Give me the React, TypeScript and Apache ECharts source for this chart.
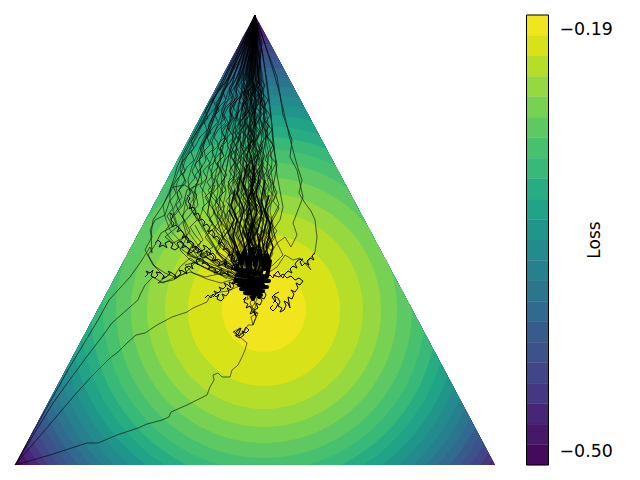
import React, { useEffect, useRef } from "react";
import * as echarts from "echarts";

// Contour bands, innermost first: radius in simplex-plane units and fill
const bandRadii = [42,76,99,117,133,148,161,173,184,195,205,215,224,233,242,250,258,266,273,281,288,330];
const bandColors = ["#f1e51d","#d8e219","#b5de2b","#95d840","#77d153","#5ec962","#47c16e","#38b977","#27ad81","#20a386","#20968b","#238a8d","#27808e","#2b758e","#306a8e","#365c8d","#3b528b","#404688","#453781","#482677","#471869","#450a5c"];
const optimum = [249, 295];
const simplex = [[0,450],[480,450],[240,0]];

// Colour bar
const lossLevels = [-0.5104,-0.4954,-0.4803,-0.4653,-0.4502,-0.4352,-0.4201,-0.4051,-0.39,-0.375,-0.3599,-0.3449,-0.3298,-0.3148,-0.2997,-0.2847,-0.2696,-0.2546,-0.2395,-0.2245,-0.2094,-0.1944,-0.1794];
const lossTicks = [-0.5, -0.19];

// Fan of runs from the apex: x read at shared depths
const depthA = [0,10,22,33,47,58,71,84,95,108,121,133,146,158,171,183,196,209,221,234,247,258];
const depthB = [0,15,27,41,52,66,77,90,103,114,127,140,151,165,177,190,202,215,226,240,252,264];
const fanRuns = [
[240,239,238,239,236,237,235,237,234,235,232,234,231,233,230,233,231,234,232,235,234,236],
[240,240,239,237,238,236,237,235,236,233,235,232,234,236,233,235,237,234,236,235,237,238],
[240,241,239,240,238,239,237,240,238,241,239,237,240,238,241,239,242,240,238,241,239,240],
[240,239,241,240,242,240,243,241,239,242,240,243,241,244,242,240,243,241,244,242,240,241],
[240,240,242,241,243,242,245,243,246,244,247,245,243,246,244,247,245,248,246,244,246,243],
[240,241,240,243,242,244,243,246,245,248,246,249,247,250,248,251,249,247,250,248,245,243],
[240,239,237,238,235,236,233,234,231,233,229,231,228,230,227,229,226,229,227,231,230,234],
[240,238,239,236,234,235,232,230,231,228,229,226,228,225,227,224,226,223,226,228,231,233],
[240,239,236,235,233,231,232,229,227,228,225,226,223,221,224,222,220,223,221,225,228,232],
[240,238,236,234,232,233,229,228,225,226,222,220,221,218,220,217,215,218,220,224,227,231],
[240,238,235,233,230,228,229,225,223,220,221,218,215,216,213,215,212,214,217,220,225,229],
[240,237,234,232,229,226,227,223,220,217,218,214,212,209,211,208,210,213,216,220,224,230],
[240,237,234,230,227,225,221,222,218,215,212,213,209,206,207,204,206,210,214,218,224,229],
[240,237,233,229,226,222,219,215,216,212,209,205,206,202,203,200,204,208,213,218,223,228],
[240,236,232,228,224,220,217,213,209,206,207,203,199,196,198,195,199,203,208,214,220,227],
[240,236,231,227,222,218,213,209,205,201,197,198,194,191,187,189,185,190,196,204,213,225],
[240,235,230,225,220,215,211,206,201,197,192,188,184,186,181,178,180,185,192,200,210,222],
[240,235,229,224,218,213,208,203,198,193,187,182,177,173,175,170,168,172,180,190,203,218],
[240,235,228,223,216,211,205,199,194,188,182,176,170,166,161,163,158,162,170,182,197,214],
[240,235,228,222,215,209,202,196,190,184,178,171,165,160,154,148,150,155,165,178,195,212],
[240,241,243,242,245,244,247,246,249,248,251,250,253,251,254,252,250,253,251,248,245,242],
[240,242,241,244,246,245,248,250,249,252,251,254,252,255,257,254,252,255,253,250,247,243],
[240,241,243,245,244,247,249,248,251,253,252,255,257,256,259,257,255,258,256,252,248,244],
[240,239,240,238,239,237,238,236,237,235,236,234,235,233,234,232,233,231,232,230,232,235],
[240,240,238,239,237,238,235,236,234,235,233,234,231,232,230,231,229,230,228,229,231,235],
[240,241,239,241,240,242,240,241,239,240,238,239,237,238,236,237,235,236,234,235,233,236],
[240,239,241,238,240,237,239,236,238,235,237,234,236,233,238,235,240,237,241,238,236,238],
[240,240,241,239,241,238,240,242,239,241,238,243,240,237,242,239,236,241,238,243,240,239],
[240,240,238,236,237,234,235,232,233,230,231,228,229,226,227,224,225,222,223,226,228,232],
[240,239,238,235,236,233,231,232,229,230,227,225,226,223,222,219,220,217,219,222,226,231],
[240,238,236,237,234,232,229,230,227,224,225,222,219,220,217,214,215,212,216,220,225,230],
[240,238,235,233,231,229,226,224,222,219,217,214,212,209,207,204,202,205,209,215,222,229],
[240,238,234,231,228,225,222,220,216,214,210,208,204,201,198,195,193,197,204,211,220,227],
[240,241,242,240,243,241,244,246,243,245,242,246,248,245,243,246,249,246,243,247,244,241],
[240,241,240,242,244,243,245,247,244,246,249,247,244,248,251,248,245,249,252,247,243,240],
[240,240,239,241,240,238,240,239,241,238,240,243,241,238,236,239,242,239,236,240,243,239],
[240,239,238,240,238,236,238,235,237,240,237,234,237,240,237,234,231,234,237,233,236,238],
[240,241,240,239,241,240,238,241,239,236,239,241,238,235,238,241,238,235,232,236,234,237],
];

// Jagged runs, read more finely below the apex
const depthC = [0,35,62,70,77,85,92,100,107,115,122,130,137,145,152,160,167,175,182,190,197,205,212,220,227,235,242,250,256];
const depthD = [0,42,66,73,81,88,96,103,111,118,126,133,141,148,156,163,171,178,186,193,201,208,216,223,231,238,246,253,260];
const jaggedRuns = [
[240,236,233,237,232,235,229,234,230,236,231,227,233,229,235,230,226,232,228,234,229,235,231,237,232,238,234,240,237],
[240,238,236,241,236,239,234,238,233,229,235,231,226,232,228,224,230,226,232,228,225,231,227,233,229,235,231,236,238],
[240,241,238,243,239,235,241,237,243,238,234,240,236,242,237,233,239,235,241,236,242,238,244,239,235,241,237,243,240],
[240,242,244,240,246,242,238,244,249,245,241,247,243,249,244,240,246,251,247,243,249,245,241,247,243,249,245,241,243],
[240,235,230,234,228,232,226,230,225,229,223,227,221,226,220,225,219,224,218,223,217,222,226,220,225,229,224,230,233],
[240,234,228,232,226,230,224,221,226,220,224,218,215,220,214,219,213,217,211,216,210,215,220,214,220,225,221,228,232],
[240,233,226,223,228,222,218,223,217,214,219,212,216,210,207,212,206,211,204,209,203,208,212,206,213,218,214,223,230],
[240,232,224,219,223,217,214,218,211,207,212,205,209,202,206,200,204,198,203,197,202,207,201,208,204,212,218,224,231],
[240,231,222,218,214,218,211,207,211,203,199,204,197,201,194,198,192,197,190,195,200,194,201,197,205,200,210,220,230],
[240,230,220,214,218,210,206,210,203,199,195,199,191,195,188,192,185,190,194,187,193,198,192,199,206,201,212,222,232],
[240,237,234,238,233,229,234,228,232,226,231,225,229,223,228,233,227,232,226,231,236,230,235,229,234,228,233,237,235],
[240,238,241,237,242,236,240,235,239,233,238,232,237,231,236,241,235,240,234,239,233,238,243,237,242,236,241,235,239],
[240,243,239,245,240,246,241,247,242,237,243,238,244,239,245,240,246,241,236,242,248,243,238,244,250,245,240,246,242],
[240,245,242,248,244,250,245,251,247,253,248,244,250,246,252,247,253,249,255,250,246,252,248,254,249,245,251,247,244],
[240,246,244,250,247,253,249,255,251,257,252,258,254,250,256,252,258,254,260,255,251,257,253,249,255,251,247,250,246],
[240,244,247,243,249,245,251,248,254,250,256,259,255,261,257,253,259,262,258,264,260,256,262,257,252,258,254,249,245],
[240,236,232,235,229,233,227,231,225,221,226,220,224,218,222,227,221,225,219,223,228,222,227,231,226,230,235,231,236],
[240,237,235,231,236,230,234,228,233,238,232,236,230,235,229,233,238,232,237,231,235,230,234,239,233,237,232,236,240],
[240,239,236,240,235,241,237,243,238,234,239,235,241,236,232,238,233,239,234,240,235,231,237,232,238,234,239,235,238],
[240,241,244,239,245,241,236,242,238,244,239,245,241,247,242,238,243,239,245,241,246,242,248,243,239,245,240,246,243],
[240,229,218,213,208,211,204,200,203,196,192,195,188,184,187,180,183,176,180,174,178,182,175,180,186,181,190,205,225],
[240,228,216,210,206,201,204,197,193,196,189,185,188,181,177,180,173,176,170,173,167,171,175,170,178,172,185,200,222],
[240,227,214,208,203,198,201,194,189,192,185,181,176,179,172,168,171,164,167,161,164,169,163,170,165,176,190,208,228],
[240,226,212,206,200,195,190,193,186,181,176,179,172,167,170,163,158,161,155,158,152,156,150,155,162,172,188,206,226],
[240,233,225,221,216,220,213,209,213,206,210,202,206,199,203,196,200,193,197,204,198,205,200,208,203,211,217,224,232],
[240,232,227,222,226,219,215,219,212,216,209,205,209,202,206,210,204,208,201,205,212,206,213,208,215,221,216,224,230],
[240,235,231,227,231,224,228,221,225,218,222,215,219,222,216,220,213,217,221,215,219,223,217,222,226,220,226,231,234],
[240,236,233,229,234,227,231,225,229,223,218,222,216,221,225,219,223,217,222,226,220,225,229,223,228,232,227,233,236],
[240,238,234,239,233,237,231,235,229,234,240,234,229,235,239,233,238,232,237,242,236,230,236,241,235,240,234,238,241],
[240,241,237,243,238,244,240,235,241,246,240,235,241,236,242,247,241,236,242,247,241,236,242,237,243,238,244,240,237],
];

// Runs that start at the other corners or wander away from the fan: x,y pairs
const cornerRunA = [0,450,35,440,72,428,83,428,102,420,123,413,132,409,147,405,154,402,156,397,172,390,192,380,195,372,199,365,198,360,203,358,207,362,215,362,217,355,223,350,227,342,230,335,232,328,225,322,218,317,225,313,220,321,229,317,233,310,238,310,236,302,242,298,237,292,242,285,238,275];
const cornerRunB = [0,450,30,415,58,382,76,362,95,343,103,337,112,328,121,320,130,318,142,310,157,302,172,297,178,293,192,287,195,281,205,277,213,276,222,272,232,268];
const cornerRunC = [0,450,19,419,38,388,56,363,73,340,86,323,97,308,115,292,123,285,125,280,130,270,138,262,148,268,158,263,165,252,175,243,185,250,195,255,210,258,228,264];
const cornerRunD = [0,450,26,403,53,355,68,330,83,305,94,285,115,262,125,248,135,232,137,238,136,220,138,205,148,190,158,172,170,170,182,180,176,195,190,215,205,240,228,262];
const edgeRuns = [
[240,0,228,25,218,45,206,68,196,85,186,105,178,120,170,135,162,152,160,160,155,175,155,185,150,200,140,205,135,215,137,222,130,235,138,250,150,258,160,262,175,257,190,262,208,258,225,265],
[240,0,229,25,219,46,208,68,198,85,188,105,177,125,168,142,165,155,170,165,162,178,166,190,158,200,162,212,150,222,158,228,170,222,178,228,172,240,180,243,190,238,200,245,212,250,225,258],
[240,0,231,22,222,42,213,62,205,82,198,100,192,118,187,132,180,150,185,160,180,175,183,190,175,200,168,208,172,222,165,235,175,245,188,252,200,258,215,262,230,265],
[240,0,230,28,220,50,211,72,203,92,196,112,188,130,191,145,185,155,187,168,172,175,168,190,160,200,155,198,157,212,146,218,140,230,133,240,140,252,150,262,143,268,158,265,170,258,180,248,195,255,210,262,228,268],
];
const tangles = [
[200,170,195,185,192,200,200,212,190,222,198,232,185,240,192,250,205,255,218,262,232,266],
[210,190,205,205,213,215,205,228,215,238,208,248,222,255,235,262],
[180,210,188,225,178,235,185,246,170,250,178,258,192,264,206,268,220,264],
[240,0,247,28,243,60,248,92,251,122,246,150,250,178,254,205,258,222,249,240,243,255],
];
const rightRuns = [
[243,8,252,35,262,62,266,85,270,102,274,120,278,135,282,150,287,165,284,178,290,188,296,196,300,205,302,222,300,237,292,248,296,255,285,243,278,245,270,240,262,252,250,260],
[243,8,250,30,258,55,265,80,268,100,277,125,275,142,282,155,288,182,283,195,278,208,282,220,276,232,270,222,262,228,268,240,258,250,245,258],
[240,0,248,40,253,80,257,110,260,140,262,160,268,192,265,205,258,215,262,228,252,245,243,258],
[240,0,246,30,252,66,256,100,258,130,262,150,258,172,264,190,256,205,260,222,250,238,242,255],
[235,272,232,285,238,280,241,292,236,296,243,298,238,310,241,302,235,288,240,278],
];
const fringeRuns = [
[130,262,133,259,131,256,135,258,138,255,136,261,140,263,143,260,141,257,146,258,149,261,147,264,151,262,155,259,153,256,157,258,161,261,159,264,163,262,166,258,164,255,168,256,172,259,170,253,174,251,178,254,176,249,180,247,183,250,181,245,185,243,189,246,187,249,191,247,195,251,193,254,197,252,201,255,199,258,203,257,207,253,205,260,210,258,214,261,212,256,217,258,221,262,219,265,225,263,230,265],
[140,228,143,225,146,228,144,232,148,230,152,233,150,228,154,226,158,229,156,233,160,235,164,232,162,228,166,226,169,229,167,233,171,231,175,235,173,239,177,237,181,234,179,231,183,233,187,237,185,241,189,243,193,240,191,236,195,238,199,242,197,246,201,244,205,248,203,251,208,249,212,246,210,252,214,254,218,251,216,255,222,253],
[155,198,158,201,156,205,159,208,157,212,161,210,164,213,162,217,166,215,169,219,167,223,171,221,174,224,172,228,176,226,179,229,177,233,181,231,184,234,182,238,186,236,190,234,188,230,192,232,196,236,194,240,198,238,201,242,199,246,203,244,207,247,211,244,209,250,213,248,217,251,222,249],
[172,180,175,183,173,187,176,190,174,194,178,192,181,196,179,200,183,198,185,202,183,206,187,204,190,207,188,211,192,209,195,213,193,217,197,215,200,219,198,223,202,221,205,225,203,229,207,227,210,231,208,235,212,233,215,237,213,241,217,239,220,243,218,247,223,245,228,250],
[198,282,201,279,199,276,203,278,206,275,204,272,208,274,211,271,209,268,213,270,216,273,214,267,218,269,221,266,219,263,224,265,228,262],
[190,283,193,280,196,283,198,279,201,282,204,279,202,284,206,286,209,283,207,279,211,281,214,277,212,273,216,275,219,271,217,267,222,270,226,267],
[228,285,231,282,229,287,233,289,231,293,235,291,237,295,235,299,239,297,241,301,239,295,243,293,241,288,245,290,247,286,245,282,249,284,251,280,249,276],
[300,238,297,241,299,245,295,243,292,246,294,250,290,248,287,251,285,247,288,244,283,245,280,249,282,253,278,251,275,254,277,258,273,256,270,259,268,263,265,260,263,256,260,259,258,263,255,260,252,262],
[258,288,261,285,259,281,263,283,265,287,263,291,267,293,265,297,269,295,271,290,269,286,273,288,275,293,273,282,277,284,279,279,276,275,280,277,283,273,281,268,285,270,288,266,284,263,280,265,276,261,272,263,268,259,264,262,258,260],
[258,290,255,293,258,296,261,293,263,289,260,286,257,282,260,279,264,277],
[220,318,223,315,226,313,224,318,221,321,225,323,229,320,227,316,231,318,234,315,231,312,228,318,224,321,219,316],
];

// Where runs pile up the strokes merge into solid black
const columnRuns = [
[214,195,219,205,213,218,220,230,216,245,224,258],[220,175,216,190,222,205,218,222,225,240,222,258],
[226,160,222,178,229,195,224,212,230,232,227,258],[232,150,228,170,235,190,230,210,235,232,231,258],
[236,140,240,165,233,185,238,208,233,232,237,258],[240,150,236,172,242,195,237,215,243,238,240,258],
[245,155,241,178,247,198,242,218,247,240,243,258],[250,165,246,185,252,205,247,225,251,245,247,258],
[254,180,250,195,256,212,251,232,255,248,250,262],[257,205,253,218,258,232,253,248,252,262],
[228,215,233,228,226,240,234,252,229,264],[238,205,233,220,241,236,235,250,240,266],
[222,235,228,244,221,252,228,262],[247,215,243,232,250,246,245,260],
];
const blobRun = [222,236,226,248,230,236,233,252,237,234,240,250,244,236,247,250,252,240,250,254,255,246,252,262,220,254,246,258,222,260,254,266,220,266,248,270,224,270,252,272,226,274,248,276,230,278,246,280,234,276,238,284,242,274,244,282,236,266,228,260,240,256];

const box: React.CSSProperties = { position: "fixed", left: 0, top: 0, width: 640, height: 480, background: "#fff" };

function pairs(flat: number[]) {
  const out: number[][] = [];
  for (let i = 0; i < flat.length; i += 2) out.push([flat[i], flat[i + 1]]);
  return out;
}

function clipToSimplex(poly: number[][]) {
  let out = poly;
  for (let e = 0; e < 3; e++) {
    const a = simplex[e], b = simplex[(e + 1) % 3];
    const side = (p: number[]) => (b[0] - a[0]) * (p[1] - a[1]) - (b[1] - a[1]) * (p[0] - a[0]);
    const res: number[][] = [];
    for (let i = 0; i < out.length; i++) {
      const p = out[i], q = out[(i + 1) % out.length];
      const sp = side(p), sq = side(q);
      if (sp <= 0) res.push(p);
      if (sp * sq < 0) {
        const t = sp / (sp - sq);
        res.push([p[0] + t * (q[0] - p[0]), p[1] + t * (q[1] - p[1])]);
      }
    }
    out = res;
  }
  return out;
}

function runSeries(data: number[][], width: number) {
  return {
    type: "line", xAxisIndex: 0, yAxisIndex: 0, data, showSymbol: false, symbol: "none", silent: true,
    lineStyle: { color: "#000", width, join: "round" }, z: 5,
  };
}

export default function App() {
  const ref = useRef<HTMLDivElement>(null);
  useEffect(() => {
    const chart = echarts.init(ref.current!, null, { renderer: "svg" });
    const bandData = bandRadii.map((r, i) => [r, i]).reverse();
    const runs: any[] = [];
    fanRuns.forEach((xs, k) => {
      const ds = k % 2 ? depthB : depthA;
      runs.push(runSeries(xs.map((x, i) => [x, ds[i]]), 0.5));
    });
    jaggedRuns.forEach((xs, k) => {
      const ds = k % 2 ? depthD : depthC;
      runs.push(runSeries(xs.map((x, i) => [x, ds[i]]), 0.6));
    });
    [cornerRunA, cornerRunB, cornerRunC, cornerRunD, ...edgeRuns, ...tangles, ...rightRuns].forEach((f) => runs.push(runSeries(pairs(f), 0.6)));
    fringeRuns.forEach((f) => runs.push(runSeries(pairs(f), 1)));
    columnRuns.forEach((f) => runs.push(runSeries(pairs(f), 1.4)));
    runs.push(runSeries(pairs(blobRun), 4));
    chart.setOption({
      animation: false,
      grid: [
        { left: 15, top: 15, width: 480, height: 450, show: false },
        { left: 526.5, top: 15, width: 22, height: 450, show: false },
      ],
      xAxis: [
        { type: "value", gridIndex: 0, min: 0, max: 480, show: false },
        { type: "value", gridIndex: 1, min: 0, max: 1, show: false },
      ],
      yAxis: [
        { type: "value", gridIndex: 0, min: 0, max: 450, inverse: true, show: false },
        {
          type: "value", gridIndex: 1, position: "right", min: lossLevels[0], max: lossLevels[lossLevels.length - 1],
          name: "Loss", nameLocation: "middle", nameRotate: 90, nameGap: 37, nameMoveOverlap: false,
          nameTextStyle: { color: "#000", fontSize: 17, fontFamily: "DejaVu Sans" },
          axisLine: { show: false }, splitLine: { show: false },
          axisTick: { show: true, length: 5, customValues: lossTicks, lineStyle: { color: "#000", width: 1 } },
          axisLabel: {
            show: true, margin: 11, customValues: lossTicks, color: "#000", fontSize: 17.4, fontFamily: "DejaVu Sans",
            formatter: (v: number) => v.toFixed(2).replace("-", "\u2212"),
          },
        },
      ],
      series: [
        {
          type: "custom", xAxisIndex: 0, yAxisIndex: 0, clip: false, silent: true, z: 1, data: bandData,
          renderItem: (_p: any, api: any) => {
            const r = api.value(0), i = api.value(1);
            const circle: number[][] = [];
            for (let a = 0; a < 240; a++) {
              const t = (a / 240) * Math.PI * 2;
              circle.push([optimum[0] + r * Math.cos(t), optimum[1] + r * Math.sin(t)]);
            }
            const poly = clipToSimplex(circle).map((p) => api.coord(p));
            return { type: "polygon", shape: { points: poly }, style: { fill: bandColors[i] } };
          },
        },
        {
          type: "custom", xAxisIndex: 1, yAxisIndex: 1, clip: false, silent: true, z: 1,
          data: bandColors.map((_c, i) => [i]),
          renderItem: (_p: any, api: any) => {
            const i = api.value(0);
            const a = api.coord([0, lossLevels[22 - i]]), b = api.coord([1, lossLevels[21 - i]]);
            return { type: "rect", shape: { x: a[0], y: a[1], width: b[0] - a[0], height: b[1] - a[1] }, style: { fill: bandColors[i], stroke: bandColors[i], lineWidth: 0.3 } };
          },
        },
        {
          type: "custom", xAxisIndex: 1, yAxisIndex: 1, clip: false, silent: true, z: 2, data: [[0]],
          renderItem: (_p: any, api: any) => {
            const a = api.coord([0, lossLevels[22]]), b = api.coord([1, lossLevels[0]]);
            return { type: "rect", shape: { x: a[0], y: a[1], width: b[0] - a[0], height: b[1] - a[1] }, style: { fill: "none", stroke: "#000", lineWidth: 1 } };
          },
        },
        ...runs,
      ],
    });
    return () => chart.dispose();
  }, []);
  return <div ref={ref} style={box} />;
}
